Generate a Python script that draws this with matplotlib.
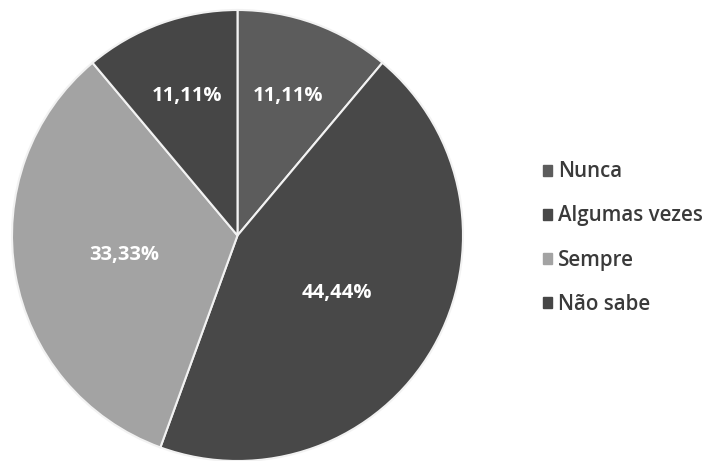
import matplotlib
matplotlib.use('Agg')
import matplotlib.pyplot as plt
import numpy as np

# data
labels = ['Nunca', 'Algumas vezes', 'Sempre', 'Não sabe']
values = [11.11, 44.44, 33.33, 11.11]
pct_text = ['11,11%', '44,44%', '33,33%', '11,11%']
colors = ['#5c5c5c', '#484848', '#a3a3a3', '#464646']

plt.rcParams['font.family'] = ['Open Sans', 'DejaVu Sans']

fig = plt.figure(figsize=(7.15, 4.61), dpi=100)
ax = fig.add_axes([12/715, 0, 451/715, 451/461])

wedges, _ = ax.pie(values, colors=colors, startangle=90, counterclock=False,
                   radius=1.0, wedgeprops=dict(edgecolor='#f2f2f2', linewidth=1.5))
ax.set_xlim(-1, 1)
ax.set_ylim(-1, 1)
ax.set_aspect('equal')
ax.axis('off')

# label distance per wedge
dist = [0.66, 0.51, 0.51, 0.66]
for w, t, d in zip(wedges, pct_text, dist):
    ang = np.deg2rad((w.theta1 + w.theta2) / 2)
    ax.text(d * np.cos(ang), d * np.sin(ang), t, ha='center', va='center',
            color='white', fontsize=14.5, fontweight='bold')

handles = [plt.Rectangle((0, 0), 1, 1, color=c) for c in colors]
leg = fig.legend(handles, labels, loc='center left', bbox_to_anchor=(524/715, 1 - 238/461),
                 frameon=False, handlelength=0.45, handleheight=0.45, handletextpad=0.3,
                 labelspacing=1.12, fontsize=14.8)
for txt in leg.get_texts():
    txt.set_color('#3a3a3a')
    txt.set_fontweight('semibold')

fig.savefig('out.png', dpi=100, facecolor='white')
